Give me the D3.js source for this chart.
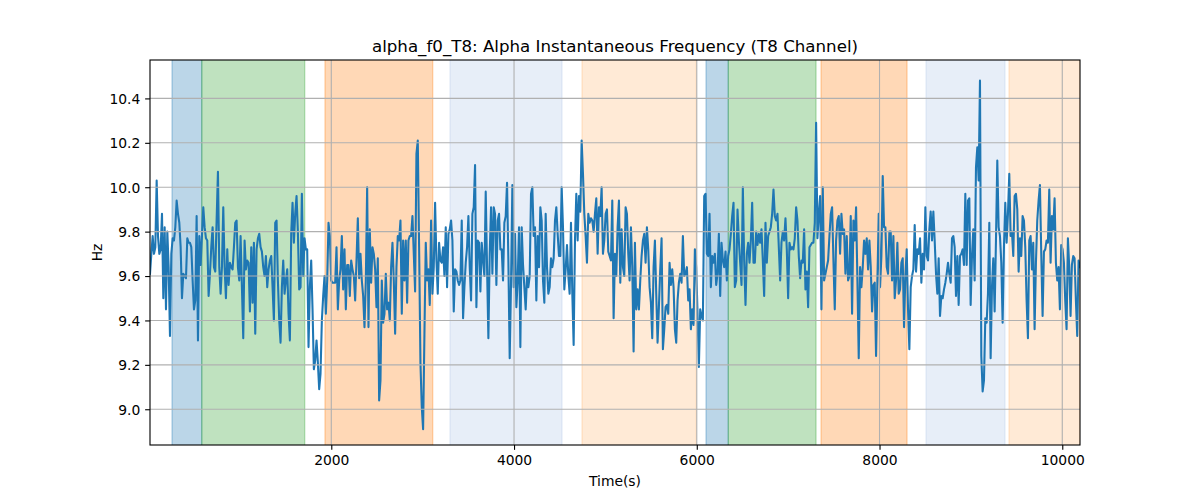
<!DOCTYPE html>
<html><head><meta charset="utf-8">
<script src="https://cdn.jsdelivr.net/npm/d3@7"></script>
<style>body{margin:0;background:#fff} text{font-family:"DejaVu Sans",sans-serif;fill:#000}</style>
</head><body><svg id="c" width="1200" height="500"></svg>
<script>
const title = "alpha_f0_T8: Alpha Instantaneous Frequency (T8 Channel)";
const xLabel = "Time(s)";
const yLabel = "Hz";
const xTicks = [2000, 4000, 6000, 8000, 10000];
const yTicks = [9.0, 9.2, 9.4, 9.6, 9.8, 10.0, 10.2, 10.4];
const xDomain = [16, 10194];
const yDomain = [8.839, 10.573];

const bandStart = [257, 582, 1931, 3299, 4744, 6101, 6345, 7360, 8509, 9417];
const bandEnd   = [582, 1709, 3110, 4525, 5995, 6345, 7305, 8301, 9373, 10194];
const bandColor = ["#1f77b4", "#2ca02c", "#ff7f0e", "#aec7e8", "#ffbb78",
                   "#1f77b4", "#2ca02c", "#ff7f0e", "#aec7e8", "#ffbb78"];

const t0 = 16, dt = 14.58;
const hzPart1 = [
9.61,9.70,9.78,9.70,9.73,10.03,9.78,9.70,9.72,9.88,
9.50,9.82,9.45,9.80,9.64,9.33,9.70,9.77,9.76,9.82,
9.94,9.88,9.84,9.73,9.50,9.61,9.60,9.59,9.77,9.75,
9.75,9.73,9.58,9.45,9.49,9.87,9.31,9.78,9.65,9.78,
9.91,9.82,9.77,9.76,9.51,9.61,9.73,9.82,9.64,9.62,
9.85,10.07,9.64,9.52,9.64,9.91,9.64,9.50,9.72,9.56,
9.66,9.64,9.63,9.73,9.84,9.85,9.64,9.58,9.78,9.55,
9.32,9.76,9.63,9.67,9.66,9.44,9.73,9.48,9.75,9.34,
9.72,9.77,9.79,9.73,9.71,9.64,9.60,9.69,9.55,9.63,
9.67,9.69,9.55,9.40,9.84,9.85,9.58,9.40,9.30,9.55,
9.67,9.52,9.58,9.63,9.43,9.31,9.79,9.93,9.75,9.88,
9.96,9.80,9.54,9.55,9.97,9.60,9.77,9.72,9.72,9.28,
9.55,9.67,9.45,9.18,9.22,9.31,9.21,9.09,9.16,9.40,
9.51,9.60,9.43,9.58,9.84,9.78,9.58,9.57,9.57];
const hzPart2 = [
9.57,9.73,9.45,9.58,9.63,9.78,9.54,9.72,9.45,9.65,
9.65,9.51,9.67,9.63,9.60,9.49,9.67,9.86,9.59,9.70,
9.58,9.51,9.37,9.58,10.00,9.37,9.81,9.57,9.73,9.70,
9.63,9.46,9.68,9.04,9.13,9.58,9.39,9.43,9.61,9.45,
9.48,9.40,9.64,9.75,9.58,9.34,9.64,9.78,9.76,9.85,
9.43,9.76,9.58,9.76,9.48,9.76,9.78,9.78,9.87,9.70,
9.53,10.15,10.21,9.73,9.21,9.01,8.91,9.34,9.75,9.58,
9.63,9.47,9.85,9.52,9.64,9.93,9.67,9.52,9.75,9.67,
9.66,9.73,9.60,9.82,9.55,9.79,9.81,9.85,9.76,9.44,
9.63,9.62,9.58,9.56,9.58,9.85,9.41,9.55,9.66,9.73,
9.87,9.64,9.49,9.88,9.91,10.10,9.46,9.76,9.75,9.53,
9.75,9.67,9.60,9.98,9.64,9.32,9.70,9.91,9.61,9.91,
9.88,9.56,9.85,9.88,9.72,9.72,9.58,9.84,9.87,10.02,
9.67,9.23,9.57,10.01,9.55,9.79,9.46,9.58,9.82];
const hzPart3 = [
9.28,9.82,9.65,9.55,9.45,9.60,9.55,9.60,9.97,10.00,
9.78,9.82,9.49,9.78,9.64,9.91,9.85,9.58,9.48,9.88,
9.64,9.52,9.55,9.68,9.64,9.68,9.85,9.91,9.79,9.69,
9.69,10.00,9.82,9.54,9.63,9.74,9.60,9.52,9.84,9.52,
9.29,9.76,9.97,9.76,9.96,9.89,10.21,10.06,9.88,9.78,
9.66,9.88,9.84,9.86,9.85,9.80,9.88,9.95,9.70,9.91,
9.87,10.00,9.70,9.76,9.88,9.90,9.71,9.69,9.67,9.94,
9.41,9.70,9.60,9.82,9.94,9.57,9.81,9.64,9.60,9.91,
9.88,9.70,9.58,9.82,9.64,9.26,9.75,9.45,9.54,9.45,
9.58,9.69,9.76,9.79,9.66,9.82,9.72,9.55,9.48,9.32,
9.64,9.76,9.52,9.30,9.46,9.63,9.77,9.27,9.36,9.46,
9.47,9.43,9.66,9.56,9.63,9.55,9.36,9.30,9.49,9.57,
9.61,9.57,9.78,9.60,9.61,9.64,9.49,9.54,9.36,9.45,
9.38,9.72,9.64,9.43,9.19,9.45,9.42,9.40,9.96];
const hzPart4 = [
9.97,9.70,9.69,9.88,9.55,9.69,9.66,9.70,9.56,9.61,
9.79,9.51,9.75,9.67,9.64,9.71,9.58,9.69,9.72,9.79,
9.87,9.93,9.55,9.58,9.90,9.76,9.66,9.56,10.00,9.67,
9.47,9.70,9.75,9.66,9.76,9.93,9.66,9.66,9.80,9.74,
9.79,9.75,9.81,9.67,9.51,9.84,9.66,9.78,9.80,9.82,
9.88,9.99,9.87,9.85,9.88,9.73,9.58,9.75,9.80,9.76,
9.86,9.72,9.50,9.75,9.72,9.73,9.72,9.77,9.91,9.85,
9.69,9.59,9.67,9.66,9.81,9.54,9.62,9.46,9.73,9.74,
9.75,9.75,9.84,10.29,9.77,9.88,9.96,9.45,10.00,9.58,
9.61,9.64,9.67,9.78,9.88,9.91,9.67,9.45,9.76,9.85,
9.87,9.70,9.88,9.79,9.81,9.61,9.78,9.58,9.60,9.87,
9.43,9.85,9.76,9.91,9.58,9.23,9.64,9.55,9.64,9.76,
9.70,9.77,9.63,9.76,9.64,9.44,9.56,9.57,9.24,9.58,
9.88,9.55,9.69,10.05,9.82,9.82,9.64,9.61,9.80];
const hzPart5 = [
9.80,9.58,9.78,9.50,9.58,9.75,9.52,9.54,9.66,9.68,
9.37,9.60,9.72,9.45,9.27,9.55,9.60,9.63,9.83,9.62,
9.72,9.70,9.77,9.57,9.70,9.63,9.91,9.69,9.67,9.81,
9.89,9.76,9.89,9.76,9.61,9.52,9.68,9.42,9.51,9.50,
9.54,9.57,9.61,9.66,9.61,9.57,9.77,9.78,9.73,9.51,
9.69,9.47,9.69,9.70,9.72,9.65,9.97,9.65,9.94,9.95,
9.47,9.69,9.81,9.58,10.09,10.18,10.03,10.48,9.24,9.08,
9.13,9.41,9.39,9.52,9.84,9.23,9.55,9.68,9.44,9.76,
10.12,9.82,9.78,9.66,9.39,9.73,9.93,9.75,9.88,10.06,
9.78,9.80,9.69,9.96,9.97,9.90,9.62,9.77,9.69,9.87,
9.85,9.73,9.49,9.32,9.76,9.78,9.63,9.75,9.36,9.66,
9.85,9.94,10.01,9.70,9.42,9.71,9.72,9.76,9.75,9.99,
9.66,9.87,9.81,9.95,9.66,9.58,9.64,9.45,9.74,9.72,
9.66,9.49,9.36,9.77,9.64,9.42,9.65,9.69,9.68,9.49,9.33,9.67,9.64];

const hz = [].concat(hzPart1, hzPart2, hzPart3, hzPart4, hzPart5);
const series = hz.map((v, i) => ({t: t0 + i * dt, v}));

const L = 150, R = 1080, T = 60, B = 445;
const px = 100 / 72;
const svg = d3.select("#c");
svg.append("rect").attr("width", 1200).attr("height", 500).attr("fill", "#fff");

const x = d3.scaleLinear().domain(xDomain).range([L, R]);
const y = d3.scaleLinear().domain(yDomain).range([B, T]);

svg.append("defs").append("clipPath").attr("id", "clip")
  .append("rect").attr("x", L).attr("y", T).attr("width", R - L).attr("height", B - T);

const plot = svg.append("g").attr("clip-path", "url(#clip)");

// bands
plot.selectAll("rect.band").data(bandStart.map((s, i) => ({s, e: bandEnd[i], c: bandColor[i]})))
  .enter().append("rect").attr("class", "band")
  .attr("x", d => x(d.s)).attr("width", d => x(d.e) - x(d.s))
  .attr("y", T - 2).attr("height", B - T + 4)
  .attr("fill", d => d.c).attr("fill-opacity", 0.3)
  .attr("stroke", d => d.c).attr("stroke-opacity", 0.3).attr("stroke-width", 1.4);

// grid
const grid = svg.append("g");
xTicks.forEach(t => grid.append("line").attr("x1", x(t)).attr("x2", x(t)).attr("y1", T).attr("y2", B)
  .attr("stroke", "#b0b0b0").attr("stroke-width", 0.8 * px));
yTicks.forEach(t => grid.append("line").attr("y1", y(t)).attr("y2", y(t)).attr("x1", L).attr("x2", R)
  .attr("stroke", "#b0b0b0").attr("stroke-width", 0.8 * px));

// line
plot.append("path").datum(series)
  .attr("d", d3.line().x(d => x(d.t)).y(d => y(d.v)))
  .attr("fill", "none").attr("stroke", "#1f77b4").attr("stroke-width", 1.5 * px)
  .attr("stroke-linejoin", "round").attr("stroke-linecap", "square");

// axes
const xAxis = d3.axisBottom(x).tickValues(xTicks).tickFormat(d3.format("d"))
  .tickSize(3.5 * px).tickPadding(3.5 * px);
const yAxis = d3.axisLeft(y).tickValues(yTicks).tickFormat(d3.format(".1f"))
  .tickSize(3.5 * px).tickPadding(3.5 * px);
const gx = svg.append("g").attr("transform", `translate(0,${B})`).call(xAxis);
const gy = svg.append("g").attr("transform", `translate(${L},0)`).call(yAxis);
[gx, gy].forEach(g => {
  g.select(".domain").remove();
  g.selectAll(".tick line").attr("stroke", "#000").attr("stroke-width", 0.8 * px);
  g.selectAll(".tick text").attr("font-family", "DejaVu Sans").attr("font-size", 10 * px).attr("fill", "#000");
});
gy.selectAll(".tick text").attr("dy", "0.35em");

// spines
svg.append("rect").attr("x", L).attr("y", T).attr("width", R - L).attr("height", B - T)
  .attr("fill", "none").attr("stroke", "#000").attr("stroke-width", 0.8 * px);

svg.append("text").attr("x", (L + R) / 2).attr("y", 52).attr("text-anchor", "middle")
  .attr("font-size", 12 * px).text(title);
svg.append("text").attr("x", (L + R) / 2).attr("y", 486).attr("text-anchor", "middle")
  .attr("font-size", 10 * px).text(xLabel);
svg.append("text").attr("transform", `translate(102,${(T + B) / 2}) rotate(-90)`)
  .attr("text-anchor", "middle").attr("font-size", 10 * px).text(yLabel);
</script></body></html>
